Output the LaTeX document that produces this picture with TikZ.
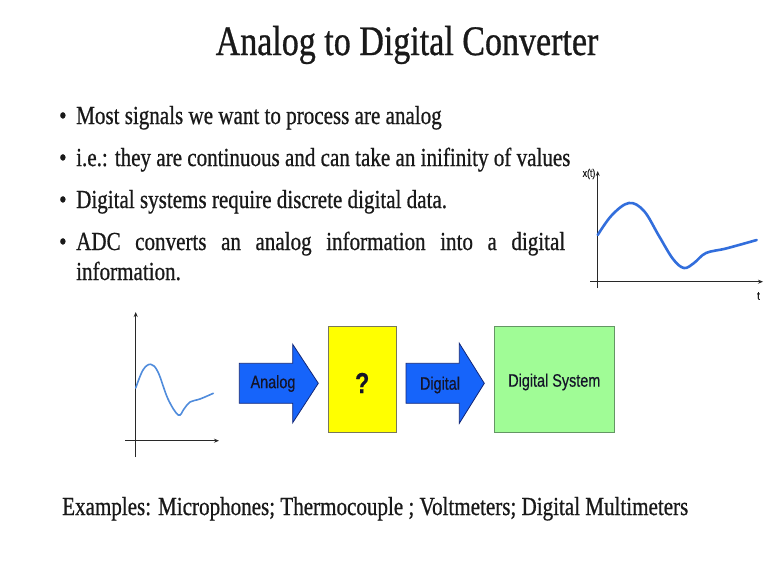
\documentclass[tikz,border=0pt]{standalone}
\usepackage{fontspec}
\setmainfont[FakeStretch=0.81,FakeBold=0.7]{Liberation Serif}
\newfontfamily\lblfont[FakeStretch=0.8,FakeBold=0.4]{Liberation Sans}
\usetikzlibrary{arrows.meta}
\definecolor{txt}{RGB}{25,25,25}
\definecolor{lbltxt}{RGB}{20,20,40}
\definecolor{arrfill}{RGB}{22,100,250}
\definecolor{arrdraw}{RGB}{20,40,120}
\definecolor{qfill}{RGB}{255,255,0}
\definecolor{qdraw}{RGB}{120,120,90}
\definecolor{gfill}{RGB}{160,252,150}
\definecolor{gdraw}{RGB}{100,150,100}
\definecolor{curve}{RGB}{50,110,220}
\definecolor{curvelt}{RGB}{80,140,220}
\definecolor{axis}{RGB}{40,40,40}
\tikzset{
  bul/.style={anchor=base west, inner sep=0pt, text=txt, font=\fontsize{26}{28}\selectfont},
  dot/.style={anchor=base west, inner sep=0pt, text=txt, font=\fontsize{26}{28}\selectfont},
  lbl/.style={inner sep=0pt, text=lbltxt, font=\lblfont\fontsize{18}{20}\selectfont},
  blockarrow/.style={fill=arrfill, draw=arrdraw, line width=0.8pt, line join=miter},
  axisline/.style={draw=axis, line width=1.1pt, -{Stealth[length=5pt,width=4pt]}},
}
\begin{document}
\begin{tikzpicture}[x=1pt,y=-1pt]
\fill[white] (0,0) rectangle (767,576);
\useasboundingbox (0,0) rectangle (767,576);

% title
\node[anchor=base, inner sep=0pt, text=txt, font=\fontsize{42}{44}\selectfont] (title) at (407,55) {Analog to Digital Converter};

% bullets
\node[dot] (d1) at (59,124) {\textbullet};
\node[bul] (b1) at (76,124) {Most signals we want to process are analog};
\node[dot] (d2) at (59,166) {\textbullet};
\node[bul] (b2) at (76,166) {i.e.: they are continuous and can take an inifinity of values};
\node[dot] (d3) at (59,208) {\textbullet};
\node[bul] (b3) at (76,208) {Digital systems require discrete digital data.};
\node[dot] (d4) at (59,250) {\textbullet};
\node[bul] (b4) at (76,250) {\makebox[489pt][s]{ADC converts an analog information into a digital}};
\node[bul] (b5) at (76,280) {information.};

% top-right graph
\coordinate (tyb) at (597.7,288);
\coordinate (tyt) at (597.7,171);
\coordinate (txl) at (590,281.7);
\coordinate (txr) at (763,281.7);
\draw[axisline] (tyb) -- (tyt);
\draw[axisline] (txl) -- (txr);
\node[inner sep=0pt, text=txt, font=\lblfont\fontsize{11}{12}\selectfont] (xt) at (589,174) {x(t)};
\node[inner sep=0pt, text=txt, font=\lblfont\fontsize{12}{12}\selectfont] (tt) at (758.5,296) {t};
\draw[curve, line width=2.6pt, line cap=round] plot[smooth, tension=0.6] coordinates {
 (597.7,235) (612,215) (629,203) (644,211) (659,236) (673,259) (684,268) (694,263) (706,253) (726,248.5) (756.7,240)};

% bottom-left graph
\coordinate (byb) at (135.7,457);
\coordinate (byt) at (135.7,312);
\coordinate (bxl) at (125,440.7);
\coordinate (bxr) at (219,440.7);
\draw[axisline, line width=0.9pt] (byb) -- (byt);
\draw[axisline, line width=0.9pt] (bxl) -- (bxr);
\draw[curvelt, line width=1.6pt, line cap=round] plot[smooth, tension=0.6] coordinates {
 (135.7,388) (143,370) (150.7,364.3) (158,372) (168,399) (178.3,415) (184,409) (190,402) (200,399) (213.3,393.3)};

% block arrow 1
\draw[blockarrow] (239.3,363.3) -- (292.7,363.3) -- (292.7,344.3) -- (318.3,383.3) -- (292.7,422.7) -- (292.7,403.3) -- (239.3,403.3) -- cycle;
\node[lbl] (analog) at (273,383.5) {Analog};

% question box
\node[draw=qdraw, fill=qfill, line width=0.8pt, minimum width=67.7pt, minimum height=105.6pt, inner sep=0pt] (adc) at (362.2,379.5) {};
\node[inner sep=0pt, text=lbltxt, font=\lblfont\bfseries\fontsize{29}{30}\selectfont] (q) at (362.2,383) {?};

% block arrow 2
\draw[blockarrow] (406,363.3) -- (459.3,363.3) -- (459.3,343.3) -- (484.3,383.3) -- (459.3,423.3) -- (459.3,403.3) -- (406,403.3) -- cycle;
\node[lbl] (digital) at (440,385) {Digital};

% digital system box
\node[draw=gdraw, fill=gfill, line width=0.8pt, minimum width=120pt, minimum height=105.6pt, inner sep=0pt] (ds) at (554.3,379.5) {};
\node[lbl] (dslbl) at (554.3,382) {Digital System};

% examples
\node[bul] (ex) at (62,515) {Examples: Microphones; Thermocouple ; Voltmeters; Digital Multimeters};
\end{tikzpicture}
\end{document}
